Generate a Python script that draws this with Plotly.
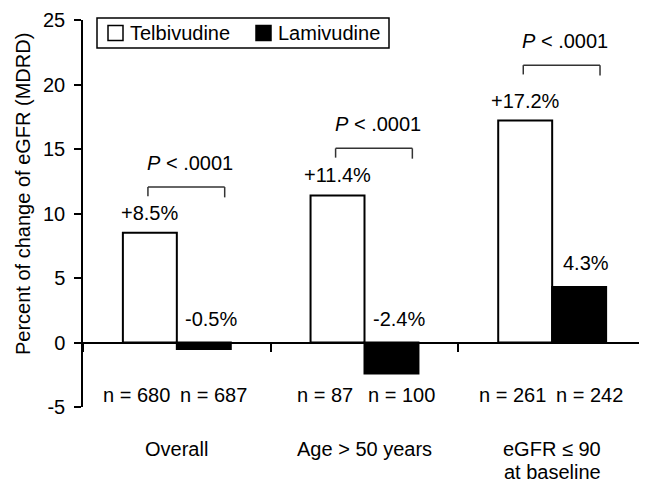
import plotly.graph_objects as go

# ---- data ----
categories = ["Overall", "Age > 50 years", "eGFR ≤ 90<br>at baseline"]
series_names = ["Telbivudine", "Lamivudine"]
telbivudine = [8.5, 11.4, 17.2]
lamivudine = [-0.5, -2.4, 4.3]
n_telbivudine = [680, 87, 261]
n_lamivudine = [687, 100, 242]
p_labels = ["<i>P</i> < .0001", "<i>P</i> < .0001", "<i>P</i> < .0001"]
y_ticks = [-5, 0, 5, 10, 15, 20, 25]
y_tick_text = ["-5", "0", "5", "10", "15", "20", "25"]

# ---- layout geometry (window pixels; page body has an 8px margin) ----
OFF = 8
WIN_W, WIN_H = 647, 483
W, H = WIN_W - OFF, WIN_H - OFF
PLOT_L, PLOT_R, PLOT_T, PLOT_B = 83, 646, 20, 407
ML, MR = PLOT_L - OFF, OFF + W - PLOT_R
MT, MB = PLOT_T - OFF, OFF + H - PLOT_B
PW = PLOT_R - PLOT_L
PH = PLOT_B - PLOT_T
FONT = "Arial, Liberation Sans, Helvetica, sans-serif"
FS = 20


def px(xp):
    return (xp - PLOT_L) / PW


def py(yp):
    return (PLOT_B - yp) / PH


fig = go.Figure()
fig.add_trace(go.Bar(
    x=categories, y=telbivudine, name=series_names[0],
    marker=dict(color="white", line=dict(color="black", width=2)),
    showlegend=False,
))
fig.add_trace(go.Bar(
    x=categories, y=lamivudine, name=series_names[1],
    marker=dict(color="black", line=dict(color="black", width=2)),
    showlegend=False,
))

ann = []
shapes = []
# value labels
for i, v in enumerate(telbivudine):
    ann.append(dict(x=i, y=max(v, 0), xref="x", yref="y", text=f"+{v}%",
                    showarrow=False, yanchor="middle", xshift=-27, yshift=20,
                    font=dict(size=FS, color="black", family=FONT)))
for i, v in enumerate(lamivudine):
    ann.append(dict(x=i, y=max(v, 0), xref="x", yref="y", text=f"{v}%",
                    showarrow=False, yanchor="middle", xshift=34, yshift=24,
                    font=dict(size=FS, color="black", family=FONT)))
# n labels
for i, (a, b) in enumerate(zip(n_telbivudine, n_lamivudine)):
    ann.append(dict(x=i, y=-4.1, xref="x", yref="y", text=f"n = {a}",
                    showarrow=False, yanchor="middle", xshift=-40,
                    font=dict(size=FS, color="black", family=FONT)))
    ann.append(dict(x=i, y=-4.1, xref="x", yref="y", text=f"n = {b}",
                    showarrow=False, yanchor="middle", xshift=37,
                    font=dict(size=FS, color="black", family=FONT)))
# category labels (each line placed separately for tight spacing)
for i, c in enumerate(categories):
    for j, line in enumerate(c.split("<br>")):
        ann.append(dict(x=i, y=py(449), xref="x", yref="paper", text=line,
                        showarrow=False, yanchor="middle", yshift=-23 * j,
                        font=dict(size=FS, color="black", family=FONT)))
# P brackets
bracket_levels = [12.05, 15.05, 21.5]
drop = 0.8
for i, (lvl, p) in enumerate(zip(bracket_levels, p_labels)):
    x0, x1 = i - 0.154, i + 0.255
    for (a0, b0, a1, b1) in [(x0, lvl - drop * 0.9, x0, lvl),
                             (x0, lvl, x1, lvl),
                             (x1, lvl, x1, lvl - drop)]:
        shapes.append(dict(type="line", xref="x", yref="y", x0=a0, y0=b0,
                           x1=a1, y1=b1, line=dict(color="#333", width=1.5)))
    ann.append(dict(x=i + 0.07, y=lvl, xref="x", yref="y", text=p,
                    showarrow=False, yanchor="middle", yshift=24,
                    font=dict(size=FS, color="black", family=FONT)))
# y title
ann.append(dict(x=px(23), y=py(194), xref="paper", yref="paper",
                text="Percent of change of eGFR (MDRD)", textangle=-90,
                showarrow=False, xanchor="center", yanchor="middle",
                font=dict(size=FS, color="black", family=FONT)))
# custom legend
shapes.append(dict(type="rect", xref="paper", yref="paper",
                   x0=px(97), x1=px(389), y0=py(48), y1=py(18),
                   line=dict(color="black", width=1.5), fillcolor="white"))
shapes.append(dict(type="rect", xref="paper", yref="paper",
                   x0=px(108), x1=px(123), y0=py(40.5), y1=py(25.5),
                   line=dict(color="black", width=1.5), fillcolor="white"))
shapes.append(dict(type="rect", xref="paper", yref="paper",
                   x0=px(256), x1=px(271), y0=py(40.5), y1=py(25.5),
                   line=dict(color="black", width=1.5), fillcolor="black"))
ann.append(dict(x=px(128), y=py(33), xref="paper", yref="paper",
                text=series_names[0], showarrow=False, xanchor="left",
                yanchor="middle", font=dict(size=FS, color="black", family=FONT)))
ann.append(dict(x=px(276), y=py(33), xref="paper", yref="paper",
                text=series_names[1], showarrow=False, xanchor="left",
                yanchor="middle", font=dict(size=FS, color="black", family=FONT)))

fig.update_layout(
    width=W, height=H,
    margin=dict(l=ML, r=MR, t=MT, b=MB, pad=0),
    paper_bgcolor="white", plot_bgcolor="white",
    barmode="group", bargap=0.425, bargroupgap=0,
    font=dict(family=FONT, size=FS, color="black"),
    annotations=ann, shapes=shapes,
    xaxis=dict(type="category", anchor="free", position=5 / 30,
               showline=True, linecolor="black", linewidth=2,
               ticks="outside", tickson="boundaries", ticklen=8,
               tickwidth=1.5, tickcolor="black",
               showticklabels=False, showgrid=False, zeroline=False,
               range=[-0.5, 2.5]),
    yaxis=dict(range=[-5, 25], tickvals=y_ticks, ticktext=y_tick_text,
               showline=True,
               linecolor="black", linewidth=1.5, ticks="outside", ticklen=7,
               tickwidth=1.5, tickcolor="black", showgrid=False,
               zeroline=False, ticklabelstandoff=5,
               tickfont=dict(size=FS, color="black", family=FONT)),
)

fig.write_html("out.html")
